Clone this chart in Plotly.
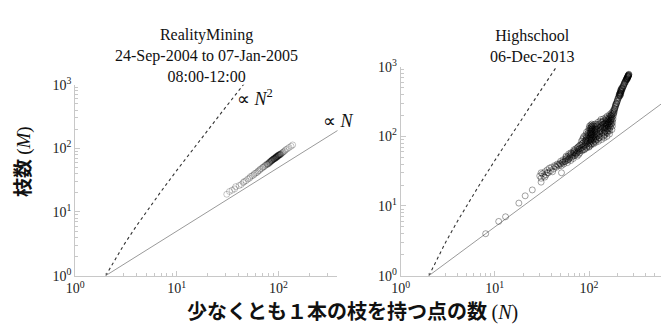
import plotly.graph_objects as go

# ---- RealityMining, 24-Sep-2004 to 07-Jan-2005, 08:00-12:00 ----
rm_nodes = [31, 33, 35, 37, 38, 41, 43, 45, 46, 48, 50, 52, 53, 55, 57, 58, 60, 62, 63, 65,
            66, 68, 70, 71, 73, 74, 76, 77, 78, 80, 81, 82, 84, 85, 86, 88, 89, 90, 91, 93,
            94, 95, 96, 98, 99, 100, 101, 103, 104, 106, 108, 110, 112, 115, 118, 122, 127, 133, 138,
            82, 85, 88, 92, 95, 97, 99, 102, 105, 83, 87, 90, 93, 96, 100, 79, 86, 91, 94, 98, 103]
rm_edges = [19, 21, 22, 23, 25, 26, 27, 29, 30, 31, 33, 34, 36, 37, 38, 40, 41, 42, 44, 45,
            47, 48, 50, 51, 52, 54, 55, 57, 56, 58, 60, 61, 62, 63, 65, 66, 67, 68, 70, 70,
            72, 73, 72, 75, 76, 77, 78, 79, 81, 82, 84, 86, 88, 91, 95, 98, 103, 108, 113,
            59, 64, 67, 69, 74, 74, 77, 79, 80, 62, 66, 69, 71, 75, 79, 57, 64, 68, 71, 74, 80]

# ---- Highschool, 06-Dec-2013 ----
hs_nodes = [8, 11, 13, 18, 21, 25, 31, 51,
            30, 31, 32, 33, 34, 35, 36, 37, 38, 39, 40, 42, 43, 45, 46, 48, 31, 34, 36, 41,
            50, 50, 52, 53, 55, 56, 57, 58, 60, 60, 61, 62, 63, 64,
            66, 67, 68, 69, 70, 71, 73, 74, 75, 76, 77, 78,
            80, 81, 82, 83, 84, 85, 86, 87, 89, 90, 91, 92, 93, 94, 95, 96,
            100, 101, 102, 103, 104, 105, 106, 105, 106, 107, 108, 109, 104, 107,
            112, 113, 114, 115, 116, 118, 119, 120, 121, 122,
            126, 128, 130, 132, 133, 135, 136, 137, 138, 139, 140, 141,
            145, 146, 148, 150, 151, 153, 155, 157, 158, 160, 161, 163, 165, 166, 168, 170, 171, 172,
            175, 177, 178, 180, 182, 183,
            185, 188, 192, 196, 200, 205, 210, 213, 215, 218, 220, 217, 212, 216,
            225, 230, 235, 240, 245, 250, 255, 258, 260, 262, 256, 252, 259, 263,
            44, 47, 49, 51, 53, 54, 56, 58, 59, 57,
            61, 63, 64, 65, 67, 68, 69, 70, 72, 72, 74, 75, 76, 77, 78, 79, 80, 81,
            83, 84, 85, 86, 87, 88, 88, 90, 91, 92, 93, 95, 96, 97, 98, 99, 99, 100, 100,
            101, 102, 102, 103, 103, 104, 104, 105, 105, 106, 106, 107, 107, 108, 108, 109, 109, 110, 110, 110,
            112, 113, 114, 115, 116, 117, 118, 119, 120, 121, 122, 124, 125, 126, 127, 129, 130, 131,
            143, 144, 145, 146, 147, 149, 150, 151, 152, 154, 155, 156, 157, 159, 160, 161, 162,
            164, 165, 166, 167, 169, 170, 171, 173, 174, 176, 177, 179,
            184, 186, 189, 191, 194, 198, 202, 207, 209, 211, 214, 216, 219, 221, 223,
            227, 232, 237, 242, 247, 249, 253, 257, 261, 264, 254, 258,
            92, 94, 96, 98, 100, 101, 103, 104, 106, 108, 110, 111, 113, 115, 93, 97, 102, 105,
            117, 119, 123, 125, 128, 131, 134, 136, 138, 142, 144, 147, 150, 153, 156, 158, 162,
            165, 168, 172, 175, 178, 181, 123, 128, 134, 140, 146, 152, 158, 163, 168, 174,
            186, 190, 195, 200, 206, 211, 215, 219, 222, 226, 233, 238, 244, 250, 255, 260, 263, 265]
hs_edges = [4, 6, 7, 11, 14, 17, 22, 30,
            27, 25, 29, 27, 31, 28, 33, 30, 35, 32, 36, 34, 38, 36, 40, 38, 30, 26, 30, 31,
            40, 44, 42, 46, 43, 47, 50, 45, 46, 52, 56, 49, 54, 58,
            50, 55, 60, 64, 53, 58, 56, 62, 68, 59, 65, 72,
            58, 66, 75, 85, 62, 70, 80, 95, 64, 72, 82, 90, 100, 68, 77, 86,
            70, 78, 88, 98, 110, 125, 140, 75, 85, 95, 105, 118, 132, 150,
            78, 88, 100, 115, 130, 82, 92, 105, 120, 138,
            85, 95, 108, 122, 140, 158, 90, 100, 115, 130, 148, 165,
            95, 105, 118, 132, 150, 168, 100, 112, 126, 142, 160, 180, 108, 120, 135, 152, 172, 195,
            125, 140, 158, 178, 200, 215,
            230, 250, 275, 300, 330, 360, 390, 420, 450, 470, 440, 410, 380, 400,
            480, 520, 560, 600, 630, 660, 690, 710, 730, 740, 700, 675, 720, 760,
            37, 39, 41, 38, 43, 40, 44, 48, 42, 52,
            47, 51, 45, 57, 52, 48, 58, 62, 54, 66, 58, 52, 70, 61, 55, 67, 75, 63,
            68, 78, 90, 64, 72, 84, 100, 66, 76, 86, 95, 70, 80, 92, 104, 74, 86, 96, 112,
            72, 82, 94, 106, 120, 88, 100, 115, 135, 78, 92, 108, 125, 88, 140, 98, 130, 80, 112, 145,
            92, 104, 122, 84, 96, 110, 125, 88, 98, 112, 128, 90, 102, 116, 132, 96, 118, 134,
            100, 112, 125, 140, 156, 108, 120, 138, 158, 115, 130, 148, 165, 120, 135, 152, 172,
            128, 145, 162, 185, 140, 160, 180, 200, 150, 170, 190, 210,
            220, 240, 260, 285, 290, 315, 345, 375, 400, 410, 385, 430, 455, 480, 500,
            500, 540, 580, 615, 645, 670, 690, 715, 750, 770, 660, 740,
            105, 115, 98, 120, 130, 140, 112, 145, 118, 128, 135, 100, 140, 150, 88, 110, 125, 105,
            140, 150, 145, 160, 150, 165, 175, 145, 160, 178, 150, 170, 185, 180, 195, 175, 190,
            205, 198, 215, 205, 225, 235, 108, 122, 128, 135, 132, 145, 150, 158, 170, 182,
            250, 270, 295, 320, 355, 395, 420, 440, 460, 490, 530, 570, 600, 650, 680, 720, 750, 780]

# guide curves: complete graph N(N-1)/2 and perfect matching N/2
guide_n_sq = [2, 2.5, 3, 4, 5, 7, 10, 14, 20, 28, 40, 50]
guide_n_lin_rm = [2, 400]
guide_n_lin_hs = [2, 600]

tick_vals = [1, 10, 100, 1000]
tick_text = ["10<sup>0</sup>", "10<sup>1</sup>", "10<sup>2</sup>", "10<sup>3</sup>"]
minor_vals = [k * 10 ** e for e in range(0, 3) for k in range(2, 10)]

SERIF = "Liberation Serif, Times New Roman, serif"
CJK = "Noto Sans CJK JP, sans-serif"

W, H = 661, 329
fig = go.Figure()

for xa, ya, nodes, edges, lin, alpha in [("x", "y", rm_nodes, rm_edges, guide_n_lin_rm, 0.22),
                                         ("x2", "y2", hs_nodes, hs_edges, guide_n_lin_hs, 0.36)]:
    fig.add_trace(go.Scatter(x=guide_n_sq, y=[n * (n - 1) / 2 for n in guide_n_sq],
                             mode="lines", xaxis=xa, yaxis=ya,
                             line=dict(color="#333", width=1.1, dash="3px,3px"),
                             hoverinfo="skip"))
    fig.add_trace(go.Scatter(x=lin, y=[n / 2 for n in lin], mode="lines",
                             xaxis=xa, yaxis=ya,
                             line=dict(color="#9a9a9a", width=1), hoverinfo="skip"))
    fig.add_trace(go.Scatter(x=nodes, y=edges, mode="markers", xaxis=xa, yaxis=ya,
                             marker=dict(symbol="circle-open", size=6,
                                         color=f"rgba(0,0,0,{alpha})",
                                         line=dict(width=1))))

axis_common = dict(type="log", showgrid=False, zeroline=False, showline=True,
                   linecolor="#c8c8c8", linewidth=1, mirror=False,
                   ticks="inside", ticklen=5, tickcolor="#c8c8c8",
                   tickvals=tick_vals, ticktext=tick_text,
                   tickfont=dict(family=SERIF, size=14, color="#222"),
                   minor=dict(ticks="inside", ticklen=3, tickcolor="#c8c8c8",
                              tickvals=minor_vals, showgrid=False))


def px_x(p):
    return p / W


def px_y(p):
    return (H - p) / H


fig.update_layout(
    width=W, height=H, margin=dict(l=0, r=0, t=0, b=0),
    paper_bgcolor="white", plot_bgcolor="white", showlegend=False,
    xaxis=dict(axis_common, domain=[px_x(67), px_x(333)], range=[0, 2.58], anchor="y"),
    yaxis=dict(axis_common, domain=[px_y(281), px_y(79)], range=[0, 3], anchor="x"),
    xaxis2=dict(axis_common, domain=[px_x(397), 1.0], range=[0, 2.764], anchor="y2"),
    yaxis2=dict(axis_common, domain=[px_y(281), px_y(60)], range=[0, 3], anchor="x2"),
)

ann = []
# panel titles
ann.append(dict(text="RealityMining<br>24-Sep-2004 to 07-Jan-2005<br>08:00-12:00",
                x=px_x(200), y=px_y(48), xref="paper", yref="paper",
                xanchor="center", yanchor="middle", showarrow=False,
                font=dict(family=SERIF, size=16, color="#111")))
ann.append(dict(text="Highschool<br>06-Dec-2013",
                x=px_x(530), y=px_y(38), xref="paper", yref="paper",
                xanchor="center", yanchor="middle", showarrow=False,
                font=dict(family=SERIF, size=16, color="#111")))
# scaling labels
ann.append(dict(text="∝ <i>N</i><sup>2</sup>", x=px_x(229), y=px_y(93),
                xref="paper", yref="paper", xanchor="left", yanchor="middle",
                showarrow=False, font=dict(family=SERIF, size=18, color="#111")))
ann.append(dict(text="∝ <i>N</i>", x=px_x(316), y=px_y(117),
                xref="paper", yref="paper", xanchor="left", yanchor="middle",
                showarrow=False, font=dict(family=SERIF, size=18, color="#111")))
# axis titles
ann.append(dict(text="<b>少なくとも１本の枝を持つ点の数</b> "
                     "<span style='font-family:Liberation Serif'>(<i>N</i>)</span>",
                x=px_x(348), y=px_y(318), xref="paper", yref="paper",
                xanchor="center", yanchor="middle", showarrow=False,
                font=dict(family=CJK, size=20, color="#111")))
ann.append(dict(text="<b>枝数</b> <span style='font-family:Liberation Serif'>(<i>M</i>)</span>",
                x=px_x(12), y=px_y(160), xref="paper", yref="paper",
                xanchor="center", yanchor="middle", showarrow=False, textangle=-90,
                font=dict(family=CJK, size=19, color="#111")))
fig.update_layout(annotations=ann)

fig.write_html("out.html")
